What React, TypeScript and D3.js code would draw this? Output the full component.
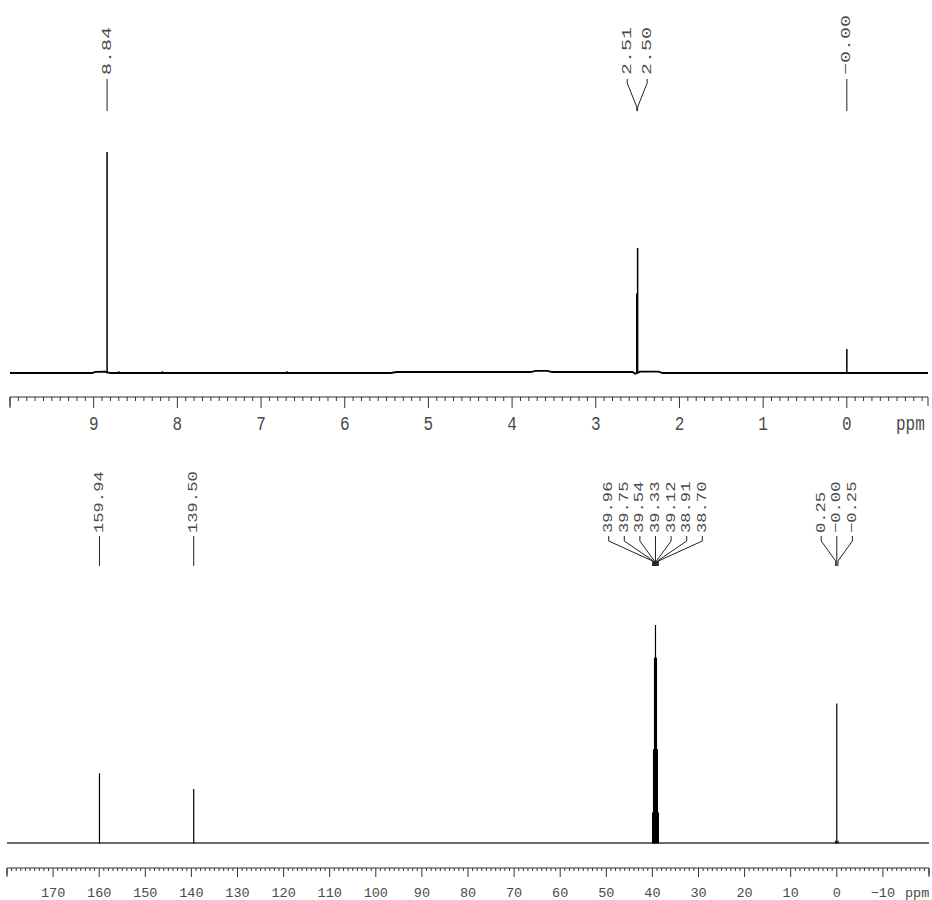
import React from "react";
import * as d3 from "d3";

// ---- 1H spectrum data ----
const hPeakPpm = [8.84, 8.70, 8.18, 6.69, 2.51, 2.50, 0.0];
const hPeakInt = [100, 0.8, 0.8, 0.8, 36, 56.6, 10.9];
const hBasePpm = [10.0, 9.02, 8.98, 8.86, 8.80, 5.45, 5.38, 3.78, 3.72, 3.58, 3.52, 2.56, 2.53, 2.47, 2.25, 2.2, -0.97];
const hBaseInt = [0, 0, 0.5, 0.6, 0, 0, 0.45, 0.45, 1.0, 1.0, 0.45, 0.45, -0.3, 0.6, 0.6, 0, 0];
const hLabels = ["8.84", "2.51", "2.50", "-0.00"];
const hLabelPpm = [8.84, 2.51, 2.50, 0.0];
const hLabelGroups = [[0], [1, 2], [3]];
const hTickLabels = ["9", "8", "7", "6", "5", "4", "3", "2", "1", "0"];

// ---- 13C spectrum data ----
const cPeakPpm = [159.94, 139.5, 39.96, 39.75, 39.54, 39.33, 39.12, 38.91, 38.70, 0.25, 0.0, -0.25];
const cPeakInt = [32, 24.8, 14, 43, 85, 100, 85, 43, 14, 1, 64, 1];
const cBasePpm = [180, -20];
const cBaseInt = [0, 0];
const cLabels = ["159.94", "139.50", "39.96", "39.75", "39.54", "39.33", "39.12", "38.91", "38.70", "0.25", "-0.00", "-0.25"];
const cLabelGroups = [[0], [1], [2, 3, 4, 5, 6, 7, 8], [9, 10, 11]];
const cTickLabels = ["170", "160", "150", "140", "130", "120", "110", "100", "90", "80", "70", "60", "50", "40", "30", "20", "10", "0", "-10"];

const FONT = "'Liberation Mono', 'DejaVu Sans Mono', monospace";
const TXT = "#4a4a4a";

type PanelCfg = {
  x: d3.ScaleLinear<number, number>;
  y: d3.ScaleLinear<number, number>;
  axisY: number;
  majorLen: number;
  minorLen: number;
  minorStep: number;
  majorStep: number;
  tickLabels: string[];
  tickFont: number;
  tickScaleY: number;
  tickBaseline: number;
  ppmX: number;
  baseStroke: number;
  baseColor: string;
  peakStroke: number;
};

function Axis({ c }: { c: PanelCfg }) {
  const [d0, d1] = c.x.domain();
  const hi = Math.max(d0, d1), lo = Math.min(d0, d1);
  const minors: number[] = [];
  const nMin = Math.round((hi - lo) / c.minorStep);
  for (let i = 0; i <= nMin + 1; i++) {
    const v = +(Math.floor(hi / c.minorStep) * c.minorStep - i * c.minorStep).toFixed(4);
    if (v >= lo - 1e-6 && v <= hi + 1e-6) minors.push(v);
  }
  const isMajor = (v: number) => Math.abs(v / c.majorStep - Math.round(v / c.majorStep)) < 1e-6;
  const [r0, r1] = c.x.range();
  return (
    <g>
      <line x1={r0} x2={r1} y1={c.axisY} y2={c.axisY} stroke="#333" strokeWidth={1} />
      {minors.map((v, i) => (
        <line key={i} x1={c.x(v)} x2={c.x(v)} y1={c.axisY} y2={c.axisY + (isMajor(v) ? c.majorLen : c.minorLen)} stroke="#333" strokeWidth={1} />
      ))}
      <line x1={r1} x2={r1} y1={c.axisY} y2={c.axisY + c.majorLen - 2} stroke="#333" />
      <line x1={r0} x2={r0} y1={c.axisY} y2={c.axisY + c.majorLen - 2} stroke="#333" />
      {c.tickLabels.map((t) => (
        <text key={t} transform={`translate(${c.x(+t)},${c.tickBaseline}) scale(1,${c.tickScaleY})`} textAnchor="middle" fontFamily={FONT} fontSize={c.tickFont} fill={TXT}>
          {t.replace("-", "\u2212")}
        </text>
      ))}
      <text transform={`translate(${c.ppmX},${c.tickBaseline}) scale(1,${c.tickScaleY})`} textAnchor="start" fontFamily={FONT} fontSize={c.tickFont} fill={TXT}>ppm</text>
    </g>
  );
}

function Spectrum({ c, basePpm, baseInt, peakPpm, peakInt }: { c: PanelCfg; basePpm: number[]; baseInt: number[]; peakPpm: number[]; peakInt: number[] }) {
  const line = d3.line<number>().x((_, i) => c.x(basePpm[i])).y((v) => c.y(v));
  return (
    <g>
      <path d={line(baseInt) || ""} fill="none" stroke={c.baseColor} strokeWidth={c.baseStroke} />
      {peakPpm.map((p, i) => (
        <line key={i} x1={c.x(p)} x2={c.x(p)} y1={c.y(0) + 0.5} y2={c.y(peakInt[i])} stroke="#000" strokeWidth={c.peakStroke} />
      ))}
    </g>
  );
}

function Labels({ x, labels, ppms, groups, textBottom, spacing, stretch, fontSize, stubTop, stubBot, convY, stemBot }: any) {
  const out: any[] = [];
  groups.forEach((g: number[], gi: number) => {
    const px = g.map((i) => x(ppms[i]));
    const center = d3.mean(px) as number;
    g.forEach((idx: number, k: number) => {
      const col = g.length === 1 ? px[k] : center + (k - (g.length - 1) / 2) * spacing;
      out.push(
        <text key={`t${gi}-${k}`} transform={`translate(${col},${textBottom}) rotate(-90) scale(${stretch},1)`} fontFamily={FONT} fontSize={fontSize} fill={TXT} dominantBaseline="central" textAnchor="start">
          {labels[idx].replace("-", "\u2212")}
        </text>
      );
      if (g.length === 1) {
        out.push(<line key={`l${gi}-${k}`} x1={col} x2={col} y1={stubTop} y2={stemBot} stroke="#222" />);
      } else {
        out.push(
          <path key={`l${gi}-${k}`} d={`M${col},${stubTop}L${col},${stubBot}L${px[k]},${convY}L${px[k]},${stemBot}`} fill="none" stroke="#222" />
        );
      }
    });
  });
  return <g>{out}</g>;
}

export default function App() {
  const xH = d3.scaleLinear().domain([10.0, -0.97]).range([10, 928]);
  const yH = d3.scaleLinear().domain([0, 100]).range([373, 152]);
  const xC = d3.scaleLinear().domain([180, -20]).range([7, 929]);
  const yC = d3.scaleLinear().domain([0, 100]).range([843, 625]);

  const hCfg: PanelCfg = {
    x: xH, y: yH, axisY: 397, majorLen: 11, minorLen: 4, minorStep: 0.1, majorStep: 1,
    tickLabels: hTickLabels, tickFont: 16, tickScaleY: 1.3, tickBaseline: 430, ppmX: 896,
    baseStroke: 1.8, baseColor: "#000", peakStroke: 1.5,
  };
  const cCfg: PanelCfg = {
    x: xC, y: yC, axisY: 868, majorLen: 9, minorLen: 3, minorStep: 1, majorStep: 10,
    tickLabels: cTickLabels, tickFont: 13.5, tickScaleY: 1.0, tickBaseline: 897, ppmX: 905,
    baseStroke: 1.6, baseColor: "#3a3a3a", peakStroke: 1.2,
  };

  return (
    <svg width={932} height={900} style={{ display: "block", position: "absolute", left: 0, top: 0, background: "#fff" }}>
      <rect width={932} height={900} fill="#fff" />
      <Labels x={xH} labels={hLabels} ppms={hLabelPpm} groups={hLabelGroups} textBottom={75} spacing={20} stretch={1.48} fontSize={13.5} stubTop={79} stubBot={83} convY={107} stemBot={111} />
      <Spectrum c={hCfg} basePpm={hBasePpm} baseInt={hBaseInt} peakPpm={hPeakPpm} peakInt={hPeakInt} />
      <Axis c={hCfg} />
      <Labels x={xC} labels={cLabels} ppms={cPeakPpm} groups={cLabelGroups} textBottom={533} spacing={15.6} stretch={1.27} fontSize={13.5} stubTop={536} stubBot={541} convY={561} stemBot={566} />
      <Spectrum c={cCfg} basePpm={cBasePpm} baseInt={cBaseInt} peakPpm={cPeakPpm} peakInt={cPeakInt} />
      <Axis c={cCfg} />
    </svg>
  );
}
